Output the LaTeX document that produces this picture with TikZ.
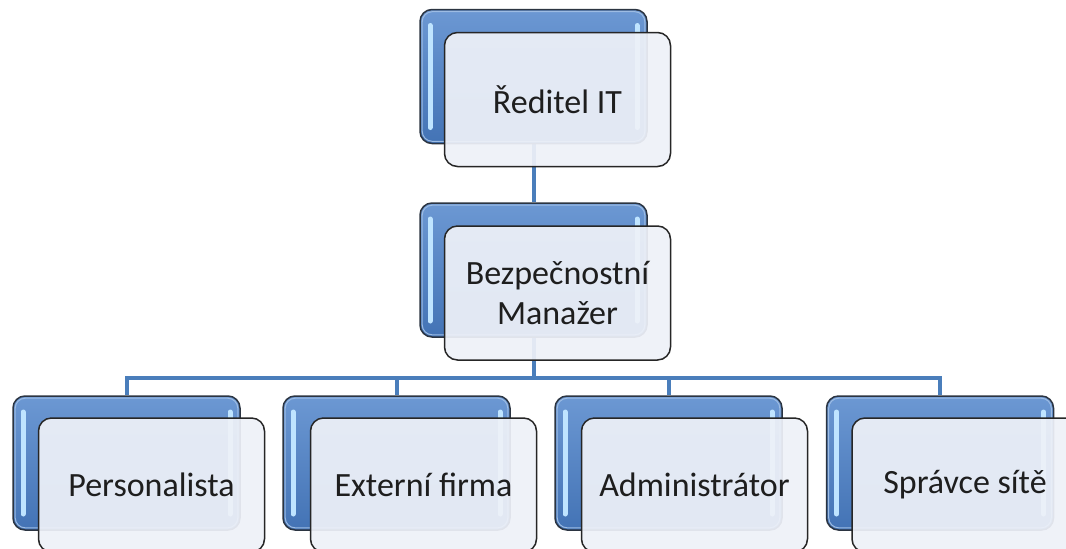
\documentclass[tikz,border=0pt]{standalone}
\usepackage{fontspec}
\setmainfont{Carlito}
\definecolor{linkblue}{HTML}{4A7EBB}
\definecolor{backtop}{HTML}{6C98D3}
\definecolor{backbot}{HTML}{4373B5}
\definecolor{hilite}{HTML}{BFE4FF}
\definecolor{innerline}{HTML}{9DBCE3}
\definecolor{edgedark}{HTML}{2B3441}
\definecolor{frontfill}{HTML}{EEF1F8}
\definecolor{textdark}{HTML}{1E1E1E}
\pgfdeclarelayer{bg}
\pgfsetlayers{bg,main}
\tikzset{
  backbox/.style={draw=edgedark, line width=1.5pt, rounded corners=12pt,
    minimum width=227pt, minimum height=134pt, inner sep=0pt,
    top color=backtop, bottom color=backbot,
    path picture={
      \draw[innerline, line width=1pt, rounded corners=10pt]
        ([shift={(2.2pt,-2.2pt)}]path picture bounding box.north west) rectangle
        ([shift={(-2.2pt,2.2pt)}]path picture bounding box.south east);
      \draw[hilite, line width=5pt, line cap=round]
        ([shift={(10pt,-16pt)}]path picture bounding box.north west) --
        ([shift={(10pt,16pt)}]path picture bounding box.south west);
      \draw[hilite, line width=5pt, line cap=round]
        ([shift={(-10pt,-16pt)}]path picture bounding box.north east) --
        ([shift={(-10pt,16pt)}]path picture bounding box.south east);
    }},
  frontbox/.style={draw=black!85, line width=1.5pt, rounded corners=13pt,
    fill=frontfill, fill opacity=0.93, text opacity=1,
    minimum width=226pt, minimum height=134pt, inner sep=2pt,
    font=\fontsize{34}{40}\selectfont, align=center, text=textdark},
  link/.style={draw=linkblue, line width=4pt}
}
\begin{document}
\begin{tikzpicture}[x=1pt, y=-1pt]
\useasboundingbox (0,0) rectangle (1066,549);
\clip (0,0) rectangle (1066,549);
% top
\node[backbox] (b1) at (533.5,76.5) {};
\node[frontbox] (n1) at (557.5,99.5) {Ředitel IT};
% middle
\node[backbox] (b2) at (533.5,270) {};
\node[frontbox] (n2) at (557.5,293) {Bezpečnostní\\Manažer};
% bottom row
\node[backbox] (b3) at (126.5,463) {};
\node[frontbox] (n3) at (151.5,485) {Personalista};
\node[backbox] (b4) at (396.5,463) {};
\node[frontbox] (n4) at (423.5,485) {Externí firma};
\node[backbox] (b5) at (668.5,463) {};
\node[frontbox] (n5) at (694.5,485) {Administrátor};
\node[backbox] (b6) at (940,463) {};
\node[frontbox] (n6) at (965,485) {Správce sítě};
\coordinate (bus) at (533.5,378);
\begin{pgfonlayer}{bg}
\draw[link] (b1.south) -- (b2.north);
\draw[link] (b2.south) -- (bus);
\draw[link] (bus) -| (b3.north);
\draw[link] (bus) -| (b4.north);
\draw[link] (bus) -| (b5.north);
\draw[link] (bus) -| (b6.north);
\end{pgfonlayer}
\end{tikzpicture}
\end{document}
